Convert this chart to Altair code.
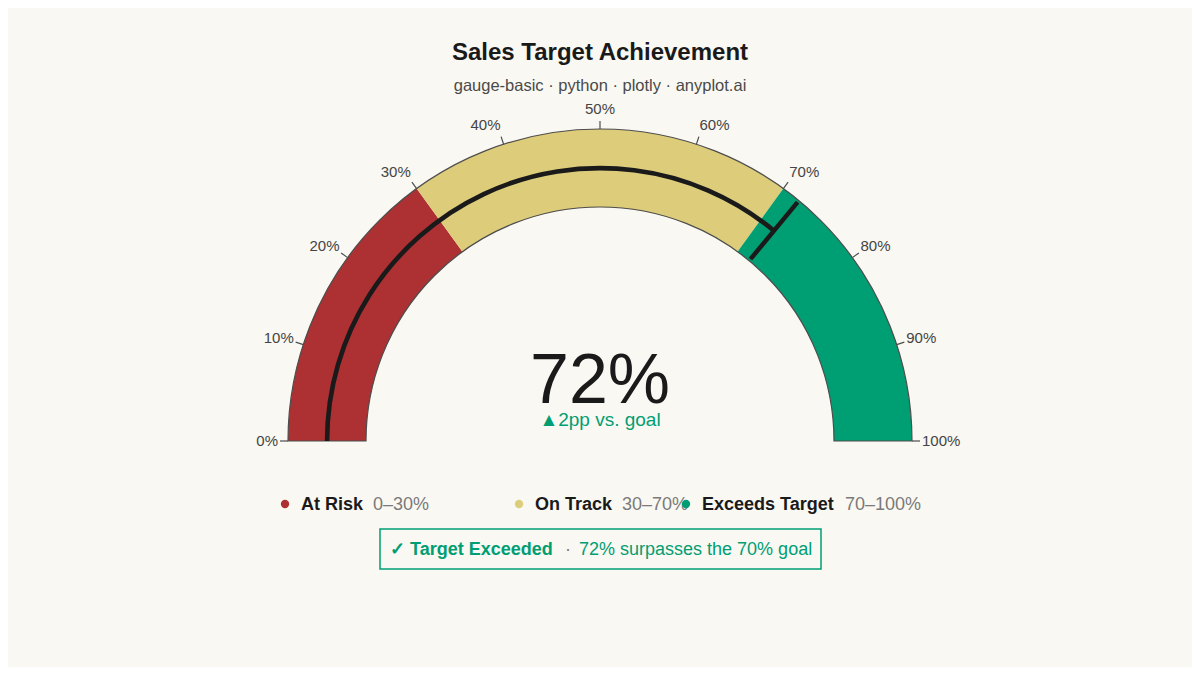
import math
import altair as alt
import pandas as pd

# ---- data ----
bands = ["At Risk", "On Track", "Exceeds Target"]
band_start = [0, 30, 70]
band_end = [30, 70, 100]
band_ranges = ["0–30%", "30–70%", "70–100%"]
band_colors = ["#AD3033", "#DDCC7A", "#009E73"]

value = 72
goal = 70

tick_values = [0, 10, 20, 30, 40, 50, 60, 70, 80, 90, 100]
tick_labels = ["0%", "10%", "20%", "30%", "40%", "50%", "60%", "70%", "80%", "90%", "100%"]

title = "Sales Target Achievement"
subtitle = "gauge-basic · python · plotly · anyplot.ai"
delta_text = "▲2pp vs. goal"
status_head = "✓ Target Exceeded"
status_body = "72% surpasses the 70% goal"

# ---- layout (chart pixel coords; page adds 8px margin) ----
W, H = 1184, 659
CX, CY = 592, 433
R_OUT, R_IN = 312, 234
FONT = "Liberation Sans"
BG = "#FAF8F2"
INK = "#1a1a1a"
GREEN = "#009E73"

theta_scale = alt.Scale(domain=[0, 100], range=[1.5 * math.pi, 2.5 * math.pi])

bands_df = pd.DataFrame({"band": bands, "start": band_start, "end": band_end})

band_layer = alt.Chart(bands_df).mark_arc(radius=R_OUT, radius2=R_IN).encode(
    theta=alt.Theta("start:Q", scale=theta_scale, stack=None),
    theta2="end:Q",
    color=alt.Color("band:N", scale=alt.Scale(domain=bands, range=band_colors), legend=None),
    x=alt.value(CX),
    y=alt.value(CY),
)

outline_layer = alt.Chart(pd.DataFrame({"start": [band_start[0]], "end": [band_end[-1]]})).mark_arc(
    radius=R_OUT, radius2=R_IN, fill="transparent", stroke="#4d4d4d", strokeWidth=1.2
).encode(
    theta=alt.Theta("start:Q", scale=theta_scale, stack=None),
    theta2="end:Q",
    x=alt.value(CX),
    y=alt.value(CY),
)

progress_layer = alt.Chart(pd.DataFrame({"start": [0], "end": [value]})).mark_arc(
    radius=275.2, radius2=270.6, color=INK
).encode(
    theta=alt.Theta("start:Q", scale=theta_scale, stack=None),
    theta2="end:Q",
    x=alt.value(CX),
    y=alt.value(CY),
)

threshold_layer = alt.Chart(pd.DataFrame({"v": [value]})).transform_calculate(
    a="PI*(1 - datum.v/100)",
    x1=f"{CX} + 236*cos(datum.a)",
    y1=f"{CY} - 236*sin(datum.a)",
    x2=f"{CX} + 310*cos(datum.a)",
    y2=f"{CY} - 310*sin(datum.a)",
).mark_rule(strokeWidth=4.5, color=INK).encode(
    x=alt.X("x1:Q", scale=None, axis=None),
    y=alt.Y("y1:Q", scale=None, axis=None),
    x2="x2:Q",
    y2="y2:Q",
)

ticks_df = pd.DataFrame({"v": tick_values, "label": tick_labels})

tick_base = alt.Chart(ticks_df).transform_calculate(
    a="PI*(1 - datum.v/100)",
    tx1=f"{CX} + {R_OUT}*cos(datum.a)",
    ty1=f"{CY} - {R_OUT}*sin(datum.a)",
    tx2=f"{CX} + 320*cos(datum.a)",
    ty2=f"{CY} - 320*sin(datum.a)",
    lx=f"{CX} + 322*cos(datum.a)",
    ly=f"{CY} - 332*sin(datum.a)",
)

tick_layer = tick_base.mark_rule(strokeWidth=1.2, color="#4d4d4d").encode(
    x=alt.X("tx1:Q", scale=None, axis=None),
    y=alt.Y("ty1:Q", scale=None, axis=None),
    x2="tx2:Q",
    y2="ty2:Q",
)


def tick_labels_layer(filt, align):
    return tick_base.transform_filter(filt).mark_text(
        align=align, baseline="middle", font=FONT, fontSize=15, color="#444444"
    ).encode(
        x=alt.X("lx:Q", scale=None, axis=None),
        y=alt.Y("ly:Q", scale=None, axis=None),
        text="label:N",
    )


lab_left = tick_labels_layer("datum.v < 50", "right")
lab_mid = tick_labels_layer("datum.v == 50", "center")
lab_right = tick_labels_layer("datum.v > 50", "left")


def text_layer(txt, x, y, size, color, weight="normal", align="center", baseline="alphabetic"):
    return alt.Chart(pd.DataFrame({"t": [txt]})).mark_text(
        font=FONT, fontSize=size, color=color, fontWeight=weight, align=align, baseline=baseline
    ).encode(text="t:N", x=alt.value(x), y=alt.value(y))


title_layer = text_layer(title, 592, 52, 24, INK, weight="bold")
subtitle_layer = text_layer(subtitle, 592, 83, 16.5, "#4a4a4a")
value_layer = text_layer(f"{value}%", 592, 395, 70, INK)
delta_layer = text_layer(delta_text, 592, 418, 19, GREEN)

# legend row
legend_dot_x = [277, 511, 678]
legend_range_x = [365, 614, 837]
LEG_Y = 497
legend_layers = []
for i, b in enumerate(bands):
    dot = alt.Chart(pd.DataFrame({"b": [b]})).mark_point(
        filled=True, size=70, shape="circle", opacity=1
    ).encode(
        x=alt.value(legend_dot_x[i]),
        y=alt.value(LEG_Y - 1),
        color=alt.value(band_colors[i]),
    )
    legend_layers.append(dot)
    legend_layers.append(
        text_layer(b, legend_dot_x[i] + 16, LEG_Y, 18, INK, weight="bold", align="left", baseline="middle")
    )
    legend_layers.append(
        text_layer(band_ranges[i], legend_range_x[i], LEG_Y, 18, "#7a7a7a", align="left", baseline="middle")
    )

# status box
box_layer = alt.Chart(pd.DataFrame({"k": [1]})).mark_rect(
    fill=BG, stroke=GREEN, strokeWidth=1.5
).encode(x=alt.value(372), x2=alt.value(813), y=alt.value(521), y2=alt.value(561))

STATUS_Y = 542
status_head_layer = text_layer(status_head, 382, STATUS_Y, 18, GREEN, weight="bold", align="left", baseline="middle")
status_dot_layer = text_layer("·", 557, STATUS_Y, 18, "#7a7a7a", align="left", baseline="middle")
status_body_layer = text_layer(status_body, 571, STATUS_Y, 18, GREEN, align="left", baseline="middle")

chart = alt.layer(
    band_layer,
    outline_layer,
    progress_layer,
    threshold_layer,
    tick_layer,
    lab_left,
    lab_mid,
    lab_right,
    title_layer,
    subtitle_layer,
    value_layer,
    delta_layer,
    *legend_layers,
    box_layer,
    status_head_layer,
    status_dot_layer,
    status_body_layer,
).properties(
    width=W,
    height=H,
    padding=0,
    autosize=alt.AutoSizeParams(type="none"),
    background=BG,
).configure_view(strokeWidth=0)

chart.save("out.html", embed_options={"renderer": "svg", "actions": False})
